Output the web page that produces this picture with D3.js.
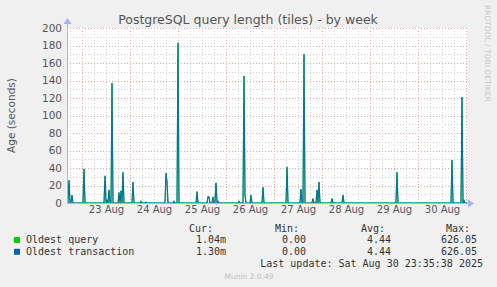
<!DOCTYPE html>
<html>
<head>
<meta charset="utf-8">
<script src="https://cdn.jsdelivr.net/npm/d3@7"></script>
<style>
  body { margin: 0; background: #f0f0f0; }
  svg { display: block; }
</style>
</head>
<body>
<script>
// spikes, 30 minute steps, everything else is 0
var spikeTimes = [
  "2025-08-22 17:30", "2025-08-22 19:00", "2025-08-23 01:00", "2025-08-23 11:30",
  "2025-08-23 12:30", "2025-08-23 13:30", "2025-08-23 15:00", "2025-08-23 18:30",
  "2025-08-23 19:30", "2025-08-23 20:30", "2025-08-24 01:30", "2025-08-24 05:30",
  "2025-08-24 08:00", "2025-08-24 17:30", "2025-08-24 18:00", "2025-08-24 18:30",
  "2025-08-24 22:00", "2025-08-25 00:00", "2025-08-25 09:30", "2025-08-25 15:00",
  "2025-08-25 15:30", "2025-08-25 17:30", "2025-08-25 19:00", "2025-08-25 20:00",
  "2025-08-26 06:30", "2025-08-26 09:00", "2025-08-26 09:30", "2025-08-26 12:30",
  "2025-08-26 18:30", "2025-08-27 06:30", "2025-08-27 13:30", "2025-08-27 15:00",
  "2025-08-27 19:30", "2025-08-27 21:30", "2025-08-27 22:30", "2025-08-28 05:00",
  "2025-08-28 10:30", "2025-08-29 13:30", "2025-08-30 17:00", "2025-08-30 22:00",
  "2025-08-30 23:00"
];
var queryValues = [
  26, 9, 39, 31, 3, 15, 137, 12, 14, 35, 24, 2, 1, 1, 34, 24, 2, 183, 13, 7, 7,
  7, 23, 2, 2, 145, 9, 9, 18, 41, 16, 170, 5, 15, 24, 5, 9, 35, 49, 121, 3
];
var transactionValues = [
  26, 9, 39, 31, 3, 15, 137, 12, 14, 35, 24, 2, 1, 1, 34, 24, 2, 183, 13, 7, 7,
  7, 23, 2, 2, 145, 9, 9, 18, 41, 16, 170, 5, 15, 24, 5, 9, 35, 49, 121, 3
];
var timeRange = ["2025-08-22 16:30", "2025-08-31 00:30"];
var yTicks = [0, 20, 40, 60, 80, 100, 120, 140, 160, 180, 200];

var seriesNames = ["Oldest query", "Oldest transaction"];
var seriesColors = ["#00cc00", "#0066b3"];
var curValues = ["1.04m", "1.30m"];
var minValues = ["0.00", "0.00"];
var avgValues = ["4.44", "4.44"];
var maxValues = ["626.05", "626.05"];

var W = 497, H = 287;
var plot = {left: 67, right: 467, top: 28, bottom: 203};
var parse = d3.utcParse("%Y-%m-%d %H:%M");

var x = d3.scaleUtc()
  .domain(timeRange.map(parse))
  .range([plot.left, plot.right]);
var y = d3.scaleLinear()
  .domain([0, 200])
  .range([plot.bottom, plot.top]);

// build a step series: value at each spike, zeros on the steps round it
function buildSeries(values) {
  var byTime = new Map();
  var half = 30 * 60 * 1000;
  spikeTimes.forEach(function(t, i) { byTime.set(+parse(t), values[i]); });
  spikeTimes.forEach(function(t) {
    var ms = +parse(t);
    [ms - half, ms + half].forEach(function(m) {
      if (!byTime.has(m)) byTime.set(m, 0);
    });
  });
  timeRange.forEach(function(t) {
    if (!byTime.has(+parse(t))) byTime.set(+parse(t), 0);
  });
  return Array.from(byTime, function(d) { return {t: new Date(d[0]), v: d[1]}; })
    .sort(function(a, b) { return a.t - b.t; });
}

var svg = d3.select("body").append("svg")
  .attr("width", W).attr("height", H)
  .style("font-family", "'DejaVu Sans', sans-serif");

svg.append("rect").attr("width", W).attr("height", H).attr("fill", "#f0f0f0");
svg.append("rect")
  .attr("x", plot.left).attr("y", plot.top)
  .attr("width", plot.right - plot.left).attr("height", plot.bottom - plot.top)
  .attr("fill", "#ffffff");

// grid
var grid = svg.append("g").attr("shape-rendering", "crispEdges");
var minorY = d3.range(10, 201, 20);
grid.selectAll("line.minory").data(minorY).enter().append("line")
  .attr("x1", plot.left).attr("x2", plot.right)
  .attr("y1", function(d) { return Math.round(y(d)) + 0.5; })
  .attr("y2", function(d) { return Math.round(y(d)) + 0.5; })
  .attr("stroke", "#d0d0d0").attr("stroke-dasharray", "1,2");

var sixHours = d3.utcHour.every(6).range(x.domain()[0], x.domain()[1])
  .filter(function(d) { return d.getUTCHours() != 0; });
grid.selectAll("line.minorx").data(sixHours).enter().append("line")
  .attr("x1", function(d) { return Math.round(x(d)) + 0.5; })
  .attr("x2", function(d) { return Math.round(x(d)) + 0.5; })
  .attr("y1", plot.top).attr("y2", plot.bottom)
  .attr("stroke", "#d0d0d0").attr("stroke-dasharray", "1,2");

grid.selectAll("line.majory").data(yTicks.slice(1)).enter().append("line")
  .attr("x1", plot.left).attr("x2", plot.right)
  .attr("y1", function(d) { return Math.round(y(d)) + 0.5; })
  .attr("y2", function(d) { return Math.round(y(d)) + 0.5; })
  .attr("stroke", "#eba3a3").attr("stroke-dasharray", "1,2");

var days = d3.utcDay.range(x.domain()[0], x.domain()[1]);
grid.selectAll("line.majorx").data(days).enter().append("line")
  .attr("x1", function(d) { return Math.round(x(d)) + 0.5; })
  .attr("x2", function(d) { return Math.round(x(d)) + 0.5; })
  .attr("y1", plot.top).attr("y2", plot.bottom)
  .attr("stroke", "#eba3a3").attr("stroke-dasharray", "1,2");

// lines
var line = d3.line()
  .x(function(d) { return x(d.t); })
  .y(function(d) { return y(Math.min(d.v, 200)); });

[queryValues, transactionValues].forEach(function(vals, i) {
  svg.append("path")
    .datum(buildSeries(vals))
    .attr("d", line)
    .attr("fill", "none")
    .attr("stroke", seriesColors[i])
    .attr("stroke-width", i == 0 ? 1 : 1.2)
    .attr("stroke-opacity", i == 1 ? 0.85 : 1);
});

// axes
var axisColor = "#aab0f0";
svg.append("line")
  .attr("x1", plot.left).attr("x2", plot.right + 2)
  .attr("y1", plot.bottom + 0.5).attr("y2", plot.bottom + 0.5)
  .attr("stroke", axisColor);
svg.append("path")
  .attr("d", "M" + (plot.right + 1) + "," + (plot.bottom - 3.5) + "l6,4l-6,4z")
  .attr("fill", axisColor);
svg.append("line")
  .attr("x1", plot.left + 0.5).attr("x2", plot.left + 0.5)
  .attr("y1", plot.bottom).attr("y2", plot.top - 5)
  .attr("stroke", axisColor);
svg.append("path")
  .attr("d", "M" + (plot.left - 3.5) + "," + (plot.top - 4) + "l4,-6l4,6z")
  .attr("fill", axisColor);

var yAxis = svg.append("g")
  .attr("transform", "translate(" + (plot.left - 5) + ",0)")
  .call(d3.axisLeft(y).tickValues(yTicks).tickSize(0).tickPadding(0));
yAxis.select(".domain").remove();
yAxis.selectAll("text")
  .attr("fill", "#555").style("font-size", "10.5px")
  .style("font-family", "'DejaVu Sans', sans-serif");

var noons = days.map(function(d) { return d3.utcHour.offset(d, 12); })
  .filter(function(d) { return x(d) < plot.right; });
var xAxis = svg.append("g")
  .attr("transform", "translate(0," + (plot.bottom + 3) + ")")
  .call(d3.axisBottom(x).tickValues(noons).tickSize(0).tickPadding(0)
    .tickFormat(d3.utcFormat("%-d %b")));
xAxis.select(".domain").remove();
xAxis.selectAll("text")
  .attr("fill", "#555").style("font-size", "10px")
  .style("font-family", "'DejaVu Sans', sans-serif");

// title and side labels
svg.append("text")
  .attr("x", 248).attr("y", 24)
  .attr("text-anchor", "middle")
  .attr("fill", "#555").style("font-size", "12.5px")
  .text("PostgreSQL query length (tiles) - by week");

svg.append("text")
  .attr("transform", "translate(15," + ((plot.top + plot.bottom) / 2) + ") rotate(-90)")
  .attr("text-anchor", "middle")
  .attr("fill", "#555").style("font-size", "10.5px")
  .text("Age (seconds)");

svg.append("text")
  .attr("transform", "translate(485,5) rotate(90)")
  .attr("fill", "#c8c8c8").style("font-size", "7.5px")
  .text("RRDTOOL / TOBI OETIKER");

// legend
var mono = "'DejaVu Sans Mono', monospace";
var legend = svg.append("g").style("font-family", mono).style("font-size", "10px")
  .attr("fill", "#333");
var cols = [{h: "Cur:", x: 213, vx: 226, vals: curValues},
            {h: "Min:", x: 299, vx: 306, vals: minValues},
            {h: "Avg:", x: 385, vx: 391, vals: avgValues},
            {h: "Max:", x: 470, vx: 477, vals: maxValues}];
cols.forEach(function(c) {
  legend.append("text").attr("x", c.x).attr("y", 231.5)
    .attr("text-anchor", "end").text(c.h);
  c.vals.forEach(function(v, i) {
    legend.append("text").attr("x", c.vx).attr("y", 243 + i * 11.5)
      .attr("text-anchor", "end").text(v);
  });
});
seriesNames.forEach(function(n, i) {
  legend.append("rect")
    .attr("x", 14).attr("y", 237 + i * 11.8)
    .attr("width", 6).attr("height", 6)
    .attr("fill", seriesColors[i]);
  legend.append("text").attr("x", 26).attr("y", 243 + i * 11.5).text(n);
});
legend.append("text").attr("x", 483).attr("y", 267)
  .attr("text-anchor", "end").text("Last update: Sat Aug 30 23:35:38 2025");

svg.append("text")
  .attr("x", 249).attr("y", 279)
  .attr("text-anchor", "middle")
  .attr("fill", "#c0c0c0").style("font-size", "7.5px")
  .text("Munin 2.0.49");
</script>
</body>
</html>
